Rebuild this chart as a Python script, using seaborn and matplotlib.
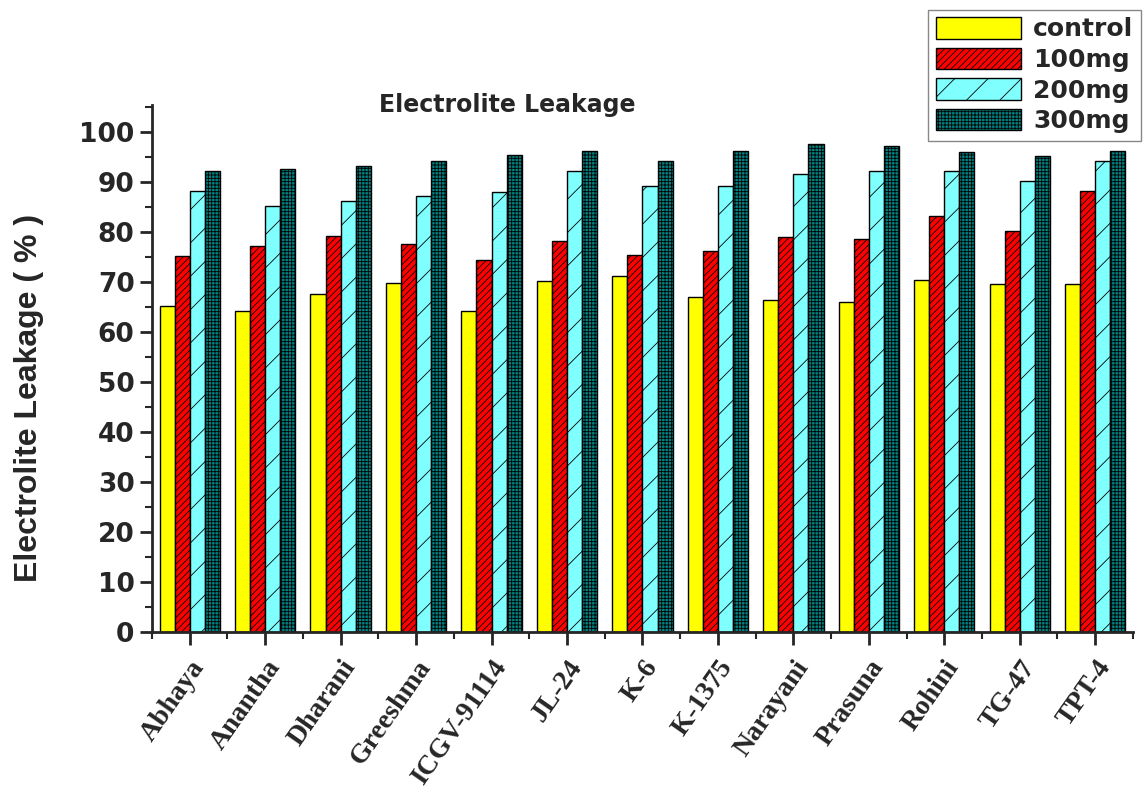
import numpy as np
import pandas as pd
import matplotlib.pyplot as plt
import matplotlib.patches as mpatches
from matplotlib.ticker import MultipleLocator, FixedLocator
import seaborn as sns

# --- data ---
varieties = ['Abhaya', 'Anantha', 'Dharani', 'Greeshma', 'ICGV-91114', 'JL-24', 'K-6',
             'K-1375', 'Narayani', 'Prasuna', 'Rohini', 'TG-47', 'TPT-4']
control = [65.2, 64.1, 67.6, 69.7, 64.2, 70.2, 71.1, 66.9, 66.4, 65.9, 70.3, 69.6, 69.6]
mg100 = [75.1, 77.1, 79.2, 77.6, 74.3, 78.2, 75.4, 76.2, 78.9, 78.6, 83.1, 80.1, 88.1]
mg200 = [88.1, 85.1, 86.2, 87.1, 87.9, 92.2, 89.2, 89.2, 91.5, 92.1, 92.1, 90.1, 94.1]
mg300 = [92.1, 92.6, 93.1, 94.1, 95.3, 96.1, 94.1, 96.2, 97.5, 97.1, 95.9, 95.1, 96.1]
doses = ['control', '100mg', '200mg', '300mg']

df = pd.DataFrame({
    'Variety': varieties * 4,
    'Dose': np.repeat(doses, len(varieties)),
    'Leakage': control + mg100 + mg200 + mg300,
})

palette = {'control': '#FFFF00', '100mg': '#FF0000', '200mg': '#80FFFF', '300mg': '#008080'}
hatches = {'control': '', '100mg': '/////', '200mg': '/', '300mg': '+++++'}

sns.set_style('ticks')
plt.rcParams['hatch.linewidth'] = 0.6

fig = plt.figure(figsize=(11.46, 7.94), dpi=100)
ax = fig.add_axes([0.1326, 0.204, 0.856, 0.664])

sns.barplot(data=df, x='Variety', y='Leakage', hue='Dose', hue_order=doses,
            palette=palette, saturation=1, width=0.8, edgecolor='black',
            linewidth=1, errorbar=None, legend=False, ax=ax)

for cont, d in zip(ax.containers, doses):
    for p in cont:
        p.set_hatch(hatches[d])

# axes styling
ax.set_xlim(-0.5, len(varieties) - 0.5)
ax.set_ylim(0, 105.4)
ax.yaxis.set_major_locator(MultipleLocator(10))
ax.yaxis.set_minor_locator(MultipleLocator(5))
ax.xaxis.set_minor_locator(FixedLocator(np.arange(-0.5, len(varieties), 1)))
sns.despine(ax=ax)
for s in ['left', 'bottom']:
    ax.spines[s].set_linewidth(2)
ax.tick_params(which='major', length=9, width=2)
ax.tick_params(which='minor', length=5, width=1.5)
ax.tick_params(axis='x', which='major', pad=8)
ax.set_xlabel('')
ax.set_ylabel('')

for lab in ax.get_yticklabels():
    lab.set_fontfamily('DejaVu Sans')
    lab.set_fontweight('bold')
    lab.set_fontsize(19)

ax.set_xticks(range(len(varieties)))
ax.set_xticklabels(varieties, rotation=55, ha='right', rotation_mode='anchor',
                   fontfamily='Liberation Serif', fontweight='bold', fontsize=20)

fig.text(507 / 1146, 1 - 105 / 794, 'Electrolite Leakage', ha='center', va='center',
         fontfamily='DejaVu Sans', fontweight='bold', fontsize=17)
fig.text(29 / 1146, 1 - 398 / 794, 'Electrolite Leakage ( % )', rotation=90,
         ha='center', va='center', fontfamily='Liberation Sans', fontweight='bold',
         fontsize=23)

handles = [mpatches.Patch(facecolor=palette[d], edgecolor='black', hatch=hatches[d], label=d)
           for d in doses]
fig.legend(handles=handles, loc='upper left', bbox_to_anchor=(0.81, 0.988),
           prop={'family': 'DejaVu Sans', 'weight': 'bold', 'size': 18},
           frameon=True, fancybox=False, edgecolor='#888888', framealpha=1,
           handlelength=3.4, handleheight=0.95, labelspacing=0.25, borderpad=0.3,
           handletextpad=0.5, borderaxespad=0)

fig.savefig('out.png', dpi=100)
